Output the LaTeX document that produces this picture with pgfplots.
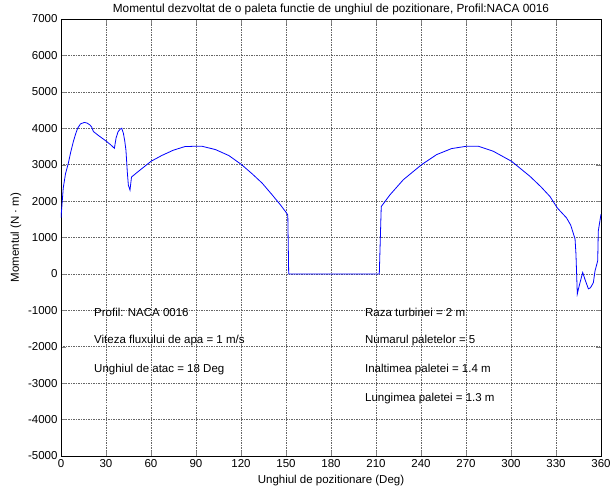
\documentclass[border=0pt]{standalone}
\usepackage{pgfplots}
\pgfplotsset{compat=1.18}
\usepackage{fontspec}
\setmainfont{Liberation Sans}
\newcommand{\fs}{\fontsize{11.5}{13}\selectfont}
\begin{document}
\begin{tikzpicture}
\useasboundingbox (-61pt,-32pt) rectangle (550pt,456pt);
\begin{axis}[
  scale only axis, width=540pt, height=437pt,
  xmin=0, xmax=360, ymin=-5000, ymax=7000,
  xtick={0,30,...,360}, ytick={-5000,-4000,...,7000},
  grid=major,
  grid style={draw=black!60, line width=0.6pt, dash pattern=on 1.5pt off 1pt},
  tick align=inside, tick pos=both, major tick length=5pt,
  axis line style={line width=0.8pt},
  /pgf/number format/assume math mode=true,
  /pgf/number format/1000 sep={},
  scaled y ticks=false, scaled x ticks=false,
  tick label style={font=\fs},
  label style={font=\fs},
  title style={font=\fontsize{11.8}{13}\selectfont, yshift=-5pt},
  title={Momentul dezvoltat de o paleta functie de unghiul de pozitionare, Profil:NACA 0016},
  xlabel={Unghiul de pozitionare (Deg)},
  ylabel={Momentul (N · m)},
  xlabel style={yshift=-1pt},
]
\addplot[blue, line width=0.8pt] coordinates {
(0,1540) (1.5,2360) (3,2750) (4.9,3040) (6.5,3350) (8.2,3630) (9.8,3850) (11.1,4000) (13,4120) (15.6,4160)
(17.5,4140) (19.3,4090) (20.5,4030) (21.6,3910) (25,3800) (30,3650) (33,3550) (35.6,3450)
(36.7,3730) (38,3900) (39.3,3970) (40.5,4000) (41.6,3860) (42.5,3650) (43.3,3400) (44.2,2800) (44.9,2440)
(46,2300) (47,2660) (51.6,2816) (56,2960) (60,3092) (67.1,3250) (74.8,3396) (82.6,3497)
(90,3506) (94,3506) (103,3414) (111.9,3250) (120.4,3000) (127.4,2750) (134.1,2493)
(140.8,2170) (146.3,1895) (149.7,1710) (151.2,1620) (151.8,0) (212.2,0) (213.5,1850)
(219.3,2171) (228.2,2586) (240.4,3000) (250.4,3276) (260.4,3442) (270.4,3506) (278.2,3506)
(288.2,3368) (300.4,3092) (312.7,2678) (320,2390) (326,2125) (330.9,1810) (337,1540)
(339.8,1340) (342.7,960) (343.3,550) (344.2,-550) (345.5,-320) (347.8,40) (349.3,-150)
(351.6,-410) (353,-380) (354.9,-240) (356,80) (357.8,360) (358.2,1180) (360,1640)
};
\node[anchor=west, font=\fs] at (axis cs:19.8,-1050) {Profil: NACA 0016};
\node[anchor=west, font=\fs] at (axis cs:19.8,-1820) {Viteza fluxului de apa = 1 m/s};
\node[anchor=west, font=\fs] at (axis cs:19.8,-2620) {Unghiul de atac = 18 Deg};
\node[anchor=west, font=\fs] at (axis cs:200.4,-1050) {Raza turbinei = 2 m};
\node[anchor=west, font=\fs] at (axis cs:200.4,-1820) {Numarul paletelor = 5};
\node[anchor=west, font=\fs] at (axis cs:200.4,-2620) {Inaltimea paletei = 1.4 m};
\node[anchor=west, font=\fs] at (axis cs:200.4,-3420) {Lungimea paletei = 1.3 m};
\end{axis}
\end{tikzpicture}
\end{document}
